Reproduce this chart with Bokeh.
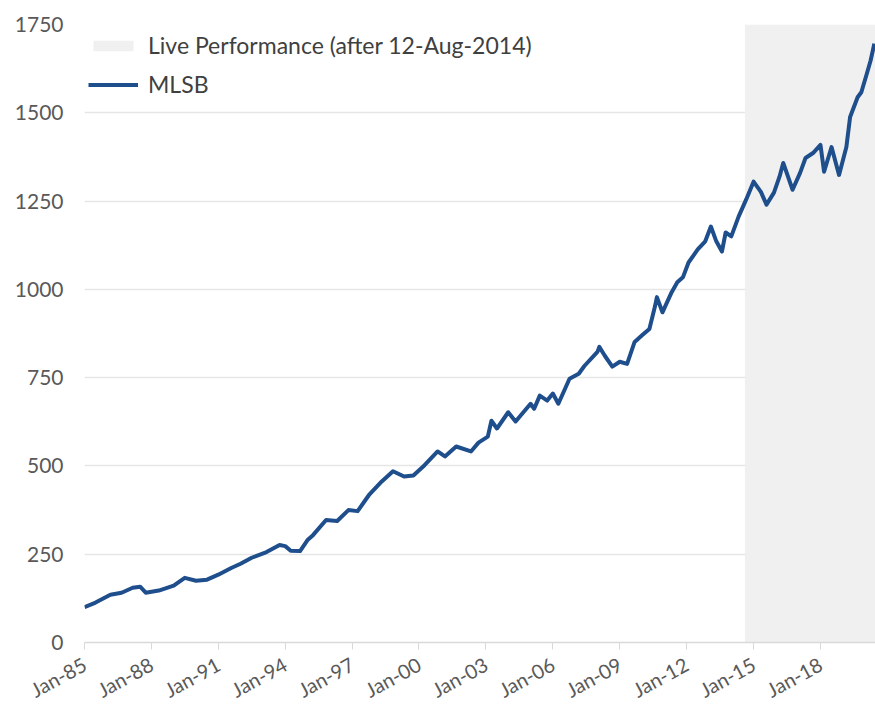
import pandas as pd
from bokeh.plotting import figure
from bokeh.models import FixedTicker, DatetimeTickFormatter, Range1d, Legend
from bokeh.embed import file_html
from bokeh.resources import INLINE

# ---- data ----
dates = ["1985-01", "1985-07", "1986-03", "1986-09", "1987-03", "1987-07", "1987-10",
         "1988-05", "1989-01", "1989-07", "1990-01", "1990-07", "1991-01", "1991-08",
         "1992-01", "1992-07", "1993-03", "1993-10", "1994-01", "1994-04", "1994-09",
         "1995-01", "1995-04", "1995-11", "1996-05", "1996-11", "1997-04", "1997-10",
         "1998-05", "1998-11", "1999-05", "1999-10", "2000-04", "2000-11", "2001-03",
         "2001-09", "2002-05", "2002-09", "2003-02", "2003-04", "2003-07", "2004-01",
         "2004-05", "2005-01", "2005-03", "2005-06", "2005-10", "2006-01", "2006-04",
         "2006-10", "2007-03", "2007-06", "2008-01", "2008-02", "2008-05", "2008-09",
         "2009-01", "2009-05", "2009-09", "2010-01", "2010-05", "2010-08", "2010-09",
         "2010-12", "2011-05", "2011-08", "2011-11", "2012-02", "2012-07", "2012-11",
         "2013-02", "2013-05", "2013-08", "2013-10", "2014-01", "2014-05", "2014-09",
         "2015-01", "2015-05", "2015-08", "2015-12", "2016-03", "2016-05", "2016-10",
         "2017-02", "2017-05", "2017-09", "2018-01", "2018-03", "2018-07", "2018-11",
         "2019-03", "2019-05", "2019-09", "2019-11", "2020-02", "2020-04", "2020-06"]
mlsb = [100, 113, 135, 141, 155, 158, 141,
        147, 161, 183, 175, 178, 192, 211,
        223, 240, 256, 276, 273, 260, 259,
        290, 304, 347, 344, 375, 372, 417,
        456, 485, 470, 473, 502, 541, 527,
        555, 541, 566, 583, 628, 606, 652,
        626, 676, 662, 699, 685, 705, 676,
        747, 761, 783, 823, 837, 812, 781,
        795, 789, 851, 870, 888, 952, 978,
        935, 992, 1020, 1034, 1076, 1113, 1136,
        1178, 1136, 1107, 1161, 1150, 1206, 1254,
        1305, 1276, 1240, 1274, 1319, 1358, 1282,
        1330, 1372, 1386, 1409, 1333, 1403, 1324,
        1403, 1488, 1544, 1558, 1612, 1648, 1696]
live_start = "2014-08-12"
x_start, x_end = "1985-01-01", "2020-06-20"
y_ticks = [0, 250, 500, 750, 1000, 1250, 1500, 1750]
tick_years = [1985, 1988, 1991, 1994, 1997, 2000, 2003, 2006, 2009, 2012, 2015, 2018]

x = pd.to_datetime(dates)
xs0, xs1 = pd.Timestamp(x_start), pd.Timestamp(x_end)

p = figure(width=875, height=715, x_axis_type="datetime", output_backend="svg",
           toolbar_location=None, x_range=Range1d(xs0, xs1), y_range=Range1d(0, 1750),
           min_border_left=84, min_border_right=0, min_border_top=24, min_border_bottom=70)
p.outline_line_color = None
p.background_fill_color = "white"

shade = p.quad(left=[pd.Timestamp(live_start)], right=[xs1], bottom=[0], top=[1750],
               fill_color="#f0f0f0", line_color=None)
ln = p.line(x, mlsb, line_color="#1f4e8c", line_width=4, line_join="round")

legend = Legend(items=[("Live Performance (after 12-Aug-2014)", [shade]), ("MLSB", [ln])],
                location=(4, 544), padding=0, margin=0, spacing=11,
                glyph_width=50, glyph_height=13, label_height=28, label_standoff=10,
                label_text_font="Lato", label_text_font_size="23px",
                label_text_color="#404040", border_line_color=None,
                background_fill_alpha=0)
p.add_layout(legend)

# y axis
p.yaxis.ticker = FixedTicker(ticks=y_ticks)
p.yaxis.axis_line_color = None
p.yaxis.major_tick_line_color = None
p.yaxis.minor_tick_line_color = None
p.yaxis.major_tick_out = 0
p.yaxis.major_tick_in = 0
p.yaxis.major_label_standoff = 21
p.yaxis.major_label_text_font = "Lato"
p.yaxis.major_label_text_font_size = "21px"
p.yaxis.major_label_text_color = "#595959"
p.ygrid.grid_line_color = "#e6e6e6"
p.ygrid.grid_line_width = 1.5
p.xgrid.grid_line_color = None

# x axis
p.xaxis.ticker = FixedTicker(ticks=[pd.Timestamp(f"{y}-01-01").value // 10**6 for y in tick_years])
fmt = "%b-%y"
p.xaxis.formatter = DatetimeTickFormatter(years=fmt, months=fmt, days=fmt, hours=fmt,
                                          minutes=fmt, seconds=fmt, milliseconds=fmt)
p.xaxis.axis_line_color = "#d9d9d9"
p.xaxis.axis_line_width = 1.5
p.xaxis.major_tick_line_color = "#d9d9d9"
p.xaxis.major_tick_in = 0
p.xaxis.major_tick_out = 7
p.xaxis.minor_tick_line_color = None
p.xaxis.major_label_orientation = 0.5
p.xaxis.major_label_standoff = 13
p.xaxis.major_label_text_font = "Lato"
p.xaxis.major_label_text_font_size = "20px"
p.xaxis.major_label_text_color = "#595959"

open("out.html", "w").write(file_html(p, INLINE))
